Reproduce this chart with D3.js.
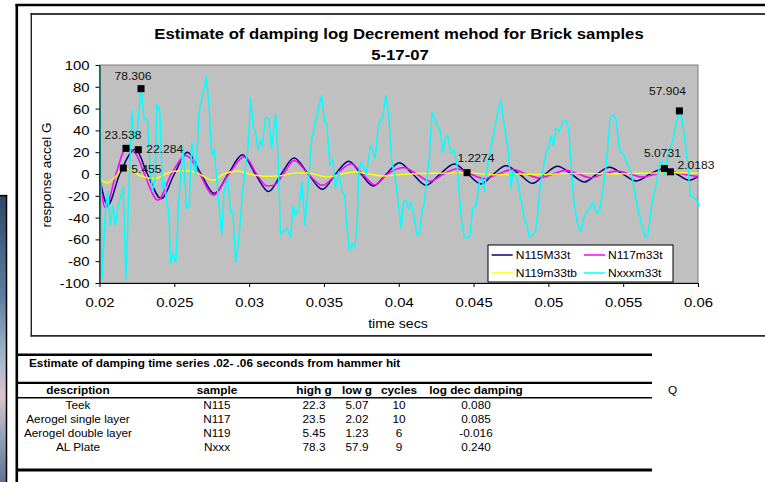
<!DOCTYPE html>
<html><head><meta charset="utf-8">
<script src="https://cdn.jsdelivr.net/npm/d3@7"></script>
<style>
body{margin:0;background:#fff;}
svg{display:block;font-family:"Liberation Sans",Arial,Helvetica,sans-serif;}
</style></head>
<body><svg id="c" width="765" height="482"></svg>
<script>
// ---------------- data ----------------
const chartTitle = ["Estimate of damping log Decrement mehod for Brick samples", "5-17-07"];
const xTitle = "time secs";
const yTitle = "response accel G";
const xTicks = [0.02, 0.025, 0.03, 0.035, 0.04, 0.045, 0.05, 0.055, 0.06];
const xTickLabels = ["0.02","0.025","0.03","0.035","0.04","0.045","0.05","0.055","0.06"];
const yTicks = [-100,-80,-60,-40,-20,0,20,40,60,80,100];

const seriesNames = ["N115M33t","N117m33t","N119m33tb","Nxxxm33t"];
const seriesColors = ["#000080","#FF00FF","#FFFF00","#00FFFF"];

// [time s, accel G]
const n115 = [[0.02000,-3],[0.02055,-28.5],[0.02135,0],[0.02240,22.6],[0.02320,0],[0.02412,-22.6],[0.02500,0],[0.02588,20],[0.02678,0],[0.02767,-18],[0.02860,0],[0.02955,17.7],[0.03042,0],[0.03130,-16],[0.03215,0],[0.03300,14.7],[0.03395,0],[0.03490,-14],[0.03578,0],[0.03666,11.6],[0.03748,0],[0.03830,-11],[0.03917,0],[0.04004,10.4],[0.04093,0],[0.04182,-10.4],[0.04277,0],[0.04372,9.2],[0.04461,0],[0.04550,-9.2],[0.04633,0],[0.04717,7.6],[0.04806,0],[0.04895,-8.6],[0.04978,0],[0.05062,7],[0.05152,0],[0.05241,-7.3],[0.05325,0],[0.05408,6.1],[0.05497,0],[0.05586,-6.4],[0.05680,0],[0.05775,5.1],[0.05858,0],[0.05942,-5.8],[0.06000,-2.5]];

const n117 = [[0.02000,-6],[0.02040,-31],[0.02110,0],[0.02177,23.5],[0.02240,19],[0.02300,0],[0.02390,-24],[0.02480,0],[0.02580,17],[0.02670,0],[0.02760,-19.6],[0.02865,0],[0.02970,16],[0.03050,0],[0.03120,-11],[0.03170,-10],[0.03230,0],[0.03300,12.5],[0.03395,0],[0.03490,-10.4],[0.03585,0],[0.03680,9.5],[0.03760,0],[0.03840,-9.8],[0.03925,0],[0.04030,6],[0.04120,0],[0.04210,-6.7],[0.04300,0],[0.04390,4.9],[0.04480,0],[0.04570,-4.3],[0.04665,0],[0.04760,4.3],[0.04850,0],[0.04940,-3.7],[0.05030,0],[0.05120,3.4],[0.05200,0],[0.05280,-3.4],[0.05370,0],[0.05460,2.8],[0.05545,0],[0.05630,-2.8],[0.05720,0],[0.05815,2.0],[0.05900,0],[0.05960,-1.5],[0.06000,-2]];

const n119 = [[0.02000,-4],[0.02050,-8],[0.02110,-2],[0.02159,5.455],[0.02200,4],[0.02280,-2],[0.02370,-4.3],[0.02440,0],[0.02500,2.5],[0.02590,3],[0.02650,1],[0.02760,-5.8],[0.02830,0],[0.02930,2.8],[0.03000,0],[0.03090,-2],[0.03200,-1.8],[0.03300,0.8],[0.03380,1.2],[0.03530,-2.8],[0.03620,0],[0.03710,1.8],[0.03800,0],[0.03890,-1.8],[0.04000,-0.6],[0.04150,0.5],[0.04300,0.8],[0.04456,1.23],[0.04560,0],[0.04650,-0.8],[0.04800,0],[0.04950,-0.5],[0.05100,0.3],[0.05250,0.6],[0.05400,0],[0.05550,0.5],[0.05700,0.8],[0.05850,1.2],[0.06000,0.8]];

const nxxx = [[0.02000,97],[0.02017,-96],[0.02039,-35],[0.02054,-16],[0.02072,-47],[0.02088,-29],[0.02106,-47],[0.02121,-32],[0.02143,-20],[0.02159,-12],[0.02177,-97],[0.02199,-4],[0.02217,58],[0.02232,32],[0.02254,42],[0.02277,78.3],[0.02299,51],[0.02321,49],[0.02339,5],[0.02354,-16],[0.02372,-4],[0.02383,64],[0.02403,58],[0.02421,-13],[0.02437,-7],[0.02448,-26],[0.02461,-32],[0.02477,-82],[0.02492,-73],[0.02510,-81],[0.02532,-20],[0.02559,26],[0.02581,-32],[0.02599,-29],[0.02617,29],[0.02643,-1],[0.02666,57],[0.02683,69],[0.02699,78],[0.02714,90],[0.02732,63],[0.02750,17],[0.02768,23],[0.02788,-13],[0.02817,-56],[0.02832,-16],[0.02855,-4],[0.02877,-35],[0.02892,-36],[0.02910,-81],[0.02932,-59],[0.02954,-20],[0.02972,2],[0.02994,26],[0.03010,69],[0.03028,42],[0.03043,39],[0.03059,22],[0.03077,31],[0.03088,26],[0.03110,52],[0.03132,51],[0.03150,23],[0.03177,55],[0.03194,14],[0.03210,-56],[0.03232,-52],[0.03254,-50],[0.03277,-58],[0.03294,-29],[0.03310,-38],[0.03332,-32],[0.03354,-7],[0.03372,-47],[0.03399,-4],[0.03417,31],[0.03443,48],[0.03466,61],[0.03483,72],[0.03506,48],[0.03521,45],[0.03539,8],[0.03559,14],[0.03577,-13],[0.03599,2],[0.03621,-16],[0.03639,-20],[0.03654,-50],[0.03670,-70],[0.03688,-64],[0.03706,-68],[0.03721,-47],[0.03732,2],[0.03748,11],[0.03766,6],[0.03781,0],[0.03799,14],[0.03810,26],[0.03826,22],[0.03843,14],[0.03861,42],[0.03877,49],[0.03892,51],[0.03914,72],[0.03932,55],[0.03954,11],[0.03977,-4],[0.03999,-29],[0.04016,-50],[0.04031,-26],[0.04049,-24],[0.04065,-32],[0.04082,-26],[0.04109,-44],[0.04122,-56],[0.04138,-55],[0.04156,-35],[0.04171,-26],[0.04205,17],[0.04223,57],[0.04238,52],[0.04261,43],[0.04278,39],[0.04294,20],[0.04312,34],[0.04327,35],[0.04350,19],[0.04372,22],[0.04390,8],[0.04405,-20],[0.04421,-44],[0.04439,-58],[0.04461,-59],[0.04477,-56],[0.04494,-32],[0.04517,-29],[0.04539,-7],[0.04557,-4],[0.04572,-16],[0.04584,-1],[0.04601,13],[0.04617,25],[0.04633,37],[0.04650,49],[0.04668,61],[0.04684,68],[0.04699,49],[0.04717,35],[0.04733,20],[0.04751,-13],[0.04762,2],[0.04777,0],[0.04795,-6],[0.04811,-20],[0.04824,-29],[0.04840,-41],[0.04857,-47],[0.04873,-58],[0.04895,-56],[0.04913,-53],[0.04929,-36],[0.04944,-13],[0.04962,2],[0.04984,20],[0.05000,23],[0.05018,35],[0.05033,26],[0.05051,42],[0.05073,39],[0.05096,48],[0.05118,49],[0.05136,42],[0.05151,11],[0.05169,-23],[0.05185,-38],[0.05203,-50],[0.05218,-53],[0.05236,-41],[0.05252,-35],[0.05274,-32],[0.05296,-26],[0.05314,-33],[0.05330,-36],[0.05345,-32],[0.05363,-16],[0.05381,2],[0.05396,23],[0.05412,52],[0.05430,54],[0.05452,51],[0.05470,26],[0.05486,20],[0.05508,17],[0.05530,8],[0.05553,2],[0.05568,-10],[0.05586,-23],[0.05608,-38],[0.05630,-50],[0.05648,-58],[0.05664,-56],[0.05682,-38],[0.05697,-23],[0.05715,-13],[0.05731,-1],[0.05746,11],[0.05760,11],[0.05775,-1],[0.05791,11],[0.05804,20],[0.05820,26],[0.05835,32],[0.05853,45],[0.05876,57.9],[0.05893,51],[0.05911,32],[0.05931,11],[0.05949,-20],[0.05964,-21],[0.05987,-23],[0.06009,-30]];

const markerT = [0.021771,0.022594,0.021591,0.022774,0.044565,0.057754,0.058155,0.058757];
const markerV = [23.538,22.284,5.455,78.306,1.2274,5.0731,2.0183,57.904];

const tableTitle = "Estimate of damping time series .02- .06 seconds from hammer hit";
const tableHeaders = ["description","sample","high g","low g","cycles","log dec damping"];
const descriptions = ["Teek","Aerogel single layer","Aerogel double layer","AL Plate"];
const samples = ["N115","N117","N119","Nxxx"];
const highG = [22.3,23.5,5.45,78.3];
const lowG = [5.07,2.02,1.23,57.9];
const cycles = [10,10,6,9];
const logDec = [0.080,0.085,-0.016,0.240];
const extraHeader = "Q";

// ---------------- layout / style ----------------
const SX = 1.18;
const svg = d3.select("#c");
const P = {l:99.5, r:698, t:65, b:283};

function txt(parent, x, y, s, o) {
  o = o || {};
  return parent.append("text")
    .attr("transform", `translate(${x},${y}) scale(${o.sx==null?SX:o.sx},1)`)
    .attr("text-anchor", o.anchor || "start")
    .style("font-size", (o.size || 10) + "px")
    .style("font-weight", o.weight || "normal")
    .attr("fill", o.fill || "#000")
    .text(s);
}

// left decorative picture strip
const defs = svg.append("defs");
const grad = defs.append("linearGradient").attr("id","strip").attr("x1",0).attr("y1",0).attr("x2",0).attr("y2",1);
[[0,"#2e4866"],[0.35,"#5d7ea0"],[0.55,"#9fb3c8"],[0.7,"#d9c6cc"],[0.85,"#8f9fb5"],[1,"#5f7490"]].forEach(s=>grad.append("stop").attr("offset",s[0]).attr("stop-color",s[1]));
svg.append("rect").attr("x",0).attr("y",196).attr("width",6).attr("height",286).attr("fill","url(#strip)");
svg.append("line").attr("x1",0).attr("x2",7.2).attr("y1",195.6).attr("y2",195.6).attr("stroke","#000").attr("stroke-width",1.5);
svg.append("line").attr("x1",6.5).attr("x2",6.5).attr("y1",195).attr("y2",482).attr("stroke","#000").attr("stroke-width",1.5);

// outer frame
svg.append("line").attr("x1",15.5).attr("x2",765).attr("y1",5).attr("y2",5).attr("stroke","#000").attr("stroke-width",2.6);
svg.append("line").attr("x1",16.8).attr("x2",16.8).attr("y1",4).attr("y2",482).attr("stroke","#000").attr("stroke-width",2.6);

// chart box
svg.append("line").attr("x1",30.5).attr("x2",765).attr("y1",14).attr("y2",14).attr("stroke","#3a3a3a").attr("stroke-width",2.2);
svg.append("line").attr("x1",31.3).attr("x2",31.3).attr("y1",13).attr("y2",336.5).attr("stroke","#222").attr("stroke-width",1.4);
svg.append("line").attr("x1",30.5).attr("x2",765).attr("y1",335.8).attr("y2",335.8).attr("stroke","#2a2a2a").attr("stroke-width",1.8);

// title
txt(svg, 399, 39.3, chartTitle[0], {size:15.2, weight:"bold", anchor:"middle", sx:1.1});
txt(svg, 400, 59.5, chartTitle[1], {size:15.2, weight:"bold", anchor:"middle", sx:1.1});

// scales
const x = d3.scaleLinear().domain([0.02,0.06]).range([P.l,P.r]);
const y = d3.scaleLinear().domain([-100,100]).range([P.b,P.t]);

// plot area
svg.append("rect").attr("x",P.l).attr("y",P.t).attr("width",P.r-P.l).attr("height",P.b-P.t)
  .attr("fill","#C0C0C0").attr("stroke","#808080").attr("stroke-width",1);

// series
const smooth = d3.line().x(d=>x(d[0])).y(d=>y(d[1])).curve(d3.curveMonotoneX);
const straight = d3.line().x(d=>x(d[0])).y(d=>y(d[1]));
const allSeries = [n115, n117, n119, nxxx];
allSeries.forEach((s,i)=>{
  svg.append("path").datum(s).attr("d", i===3 ? straight : smooth)
    .attr("fill","none").attr("stroke",seriesColors[i]).attr("stroke-width", i===2?1.4:1.5)
    .attr("stroke-linejoin","round");
});

// axes
const yAxis = svg.append("g").attr("transform",`translate(${P.l},0)`)
  .call(d3.axisLeft(y).tickValues(yTicks).tickSize(4).tickSizeOuter(0).tickFormat(d=>String(d)));
yAxis.selectAll("text").attr("x", -10/SX).attr("dy","0.35em")
  .attr("transform",`scale(${SX},1)`).style("font-size","12.6px").attr("fill","#000");
yAxis.attr("font-family",null).attr("font-size",null);
const xAxis = svg.append("g").attr("transform",`translate(0,${P.b})`)
  .call(d3.axisBottom(x).tickValues(xTicks).tickSize(4).tickSizeOuter(0).tickFormat((d,i)=>xTickLabels[i]));
xAxis.selectAll("text").attr("y", 24.5).attr("dy", null)
  .attr("transform",`scale(${SX},1)`).style("font-size","12.6px").attr("fill","#000");
xAxis.attr("font-family",null).attr("font-size",null);
svg.selectAll(".domain, .tick line").attr("stroke","#000").attr("stroke-width",1);

// axis titles
txt(svg, 398, 328.3, xTitle, {size:12, anchor:"middle"});
svg.append("text").attr("transform","translate(50.5,175) rotate(-90)")
  .attr("text-anchor","middle").style("font-size","13.5px").attr("fill","#000").text(yTitle);

// markers and labels
const labelStyle = [
  {a:"middle",dx:-3,dy:-9},
  {a:"start",dx:8,dy:3.5},
  {a:"start",dx:8,dy:4.5},
  {a:"middle",dx:-8,dy:-8.5},
  {a:"middle",dx:9,dy:-11},
  {a:"middle",dx:-2,dy:-11},
  {a:"start",dx:7,dy:-2.7},
  {a:"middle",dx:-12,dy:-16}
];
const fmt = d3.format(".5~g");
markerT.forEach((t,i)=>{
  const mx = x(t), my = y(markerV[i]);
  svg.append("rect").attr("x",mx-3.5).attr("y",my-3.5).attr("width",7).attr("height",7).attr("fill","#000");
  const ls = labelStyle[i];
  txt(svg, mx+ls.dx, my+ls.dy, fmt(markerV[i]), {size:11, anchor:ls.a, sx:1.1, fill:"#111"});
});

// legend
const L = {x:488, y:245, w:185, h:37};
svg.append("rect").attr("x",L.x).attr("y",L.y).attr("width",L.w).attr("height",L.h)
  .attr("fill","#fff").attr("stroke","#000").attr("stroke-width",1);
const legCols = [491.7, 584];
const legRows = [255, 273];
seriesNames.forEach((n,i)=>{
  const cx = legCols[i%2], cy = legRows[Math.floor(i/2)];
  svg.append("line").attr("x1",cx).attr("x2",cx+21).attr("y1",cy).attr("y2",cy)
    .attr("stroke",seriesColors[i]).attr("stroke-width",1.5);
  txt(svg, cx+24, cy+3.7, n, {size:10.2});
});

// table
const tl = (y1, w) => svg.append("line").attr("x1",16).attr("x2",652).attr("y1",y1).attr("y2",y1).attr("stroke","#000").attr("stroke-width",w);
tl(354.7, 2.6); tl(382.8, 2.2); tl(397.8, 1.6); tl(470, 3);
txt(svg, 29, 366.5, tableTitle, {size:10, weight:"bold"});
const colX = [78, 217, 314, 357, 399, 476];
tableHeaders.forEach((h,i)=> txt(svg, colX[i], 393.5, h, {size:10, weight:"bold", anchor:"middle"}));
txt(svg, 668, 393.5, extraHeader, {size:10});
const rowY = [408.5, 422.7, 436.9, 451.1];
descriptions.forEach((d,r)=>{
  const vals = [d, samples[r], String(highG[r]), String(lowG[r]), String(cycles[r]), logDec[r].toFixed(3)];
  vals.forEach((v,i)=> txt(svg, colX[i], rowY[r], v, {size:10, anchor:"middle"}));
});
</script></body></html>
